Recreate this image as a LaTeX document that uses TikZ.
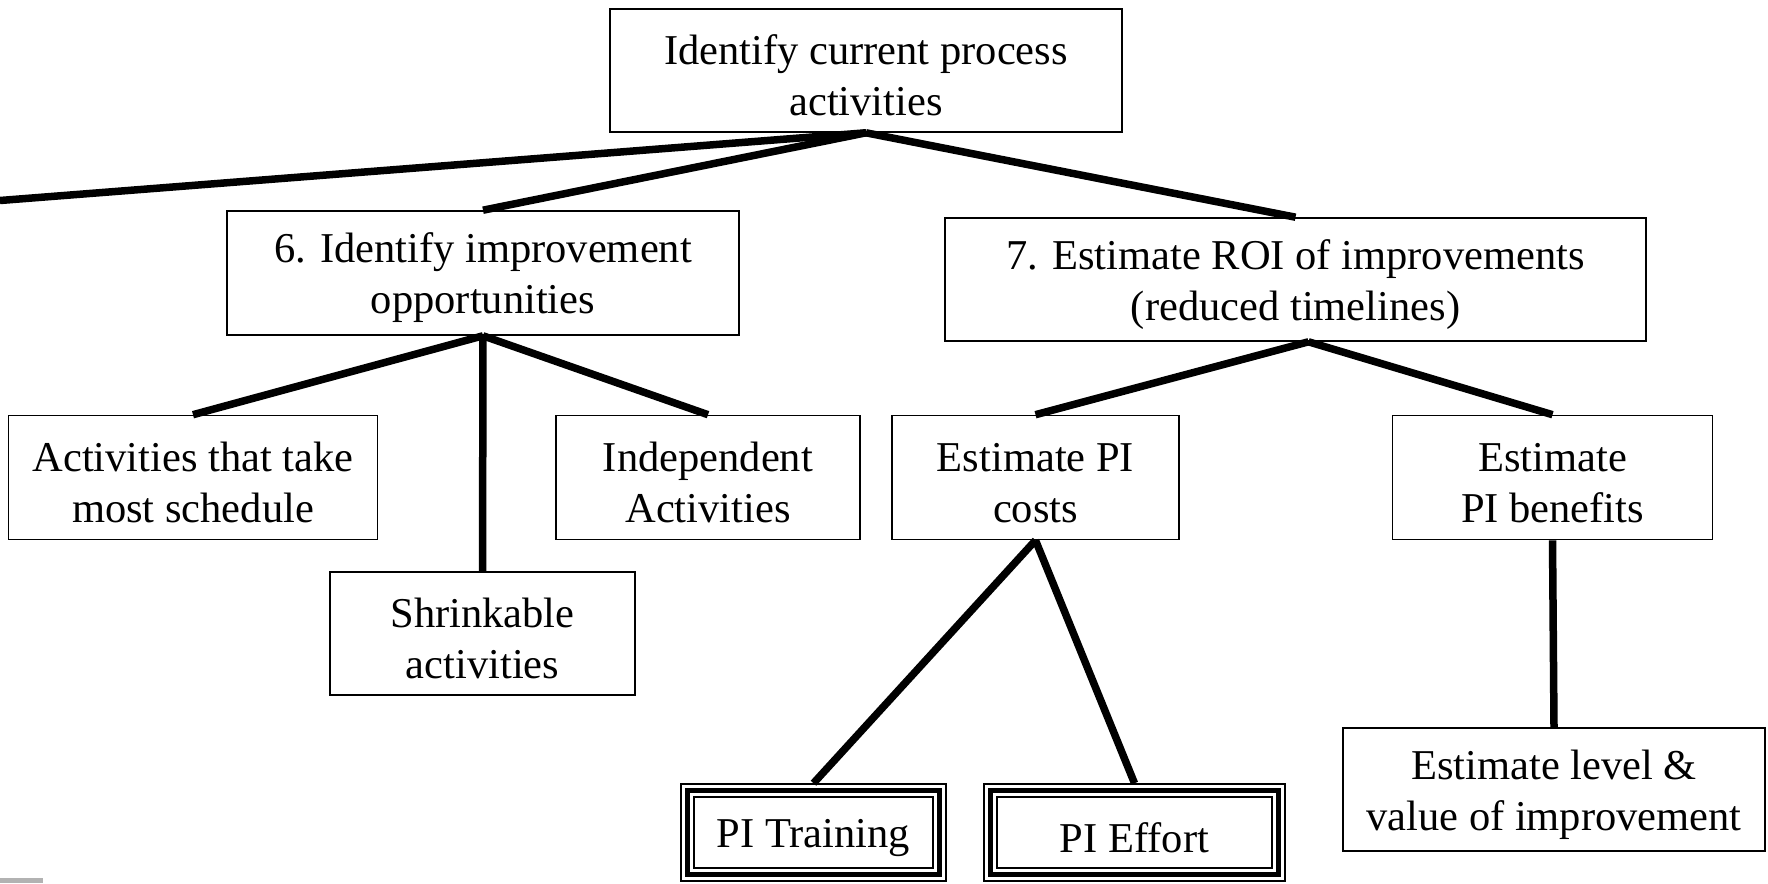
\documentclass[tikz,border=0pt]{standalone}
\usepackage{fontspec}
\setmainfont{Liberation Serif}
\newcommand\tallstrut{\rule{0pt}{40pt}}
\begin{document}
\begin{tikzpicture}[x=1pt,y=-1pt,
  box/.style={draw, line width=1.6pt, inner sep=0pt, align=center,
              font=\fontsize{42.5}{51}\selectfont},
  link/.style={line width=7.5pt},
]
\useasboundingbox (0,0) rectangle (1768,883);
\fill[white] (0,0) rectangle (1768,883);

% boxes
\node[box, minimum width=512pt, minimum height=123pt] (top) at (866,70.5)
  {\tallstrut Identify current process\\activities};
\node[box, minimum width=512pt, minimum height=124pt] (improve) at (483,273)
  {\tallstrut 6. Identify improvement\\opportunities};
\node[box, minimum width=701pt, minimum height=123pt] (roi) at (1295.5,279.5)
  {\tallstrut 7. Estimate ROI of improvements\\(reduced timelines)};
\node[box, minimum width=369pt, minimum height=124pt] (most) at (193,477.5)
  {\tallstrut Activities that take\\most schedule};
\node[box, minimum width=304pt, minimum height=124pt] (indep) at (708,477.5)
  {\tallstrut Independent\\Activities};
\node[box, minimum width=305pt, minimum height=123pt] (shrink) at (482.5,633.5)
  {\tallstrut Shrinkable\\activities};
\node[box, minimum width=287pt, minimum height=124pt] (costs) at (1035.5,477.5)
  {\tallstrut Estimate PI\\costs};
\node[box, minimum width=320pt, minimum height=124pt] (benefits) at (1552.5,477.5)
  {\tallstrut Estimate\\PI benefits};
\node[box, minimum width=422pt, minimum height=123pt] (level) at (1554,789.5)
  {\tallstrut Estimate level \&\\value of improvement};
\node[box, minimum width=265pt, minimum height=97pt] (train) at (813.5,832.5)
  {\tallstrut PI Training};
\node[box, minimum width=301pt, minimum height=97pt] (effort) at (1134.5,832.5)
  {\tallstrut PI Effort};

% inner frames of the framed boxes
\foreach \n in {train,effort}{
  \draw[line width=5.5pt] ([xshift=7.5pt,yshift=-7.5pt]\n.north west)
    rectangle ([xshift=-7.5pt,yshift=7.5pt]\n.south east);
  \draw[line width=1.6pt] ([xshift=14pt,yshift=-14pt]\n.north west)
    rectangle ([xshift=-14pt,yshift=14pt]\n.south east);
}

% connectors
\coordinate (offleft) at (0,200.5);
\coordinate (roifoot) at ([xshift=13pt]roi.south);
\draw[link] (top.south) -- (offleft);
\draw[link] (top.south) -- (improve.north);
\draw[link] (top.south) -- (roi.north);
\draw[link] (improve.south) -- (most.north);
\draw[link] (improve.south) -- (shrink.north);
\draw[link] (improve.south) -- (indep.north);
\draw[link] (roifoot) -- (costs.north);
\draw[link] (roifoot) -- (benefits.north);
\draw[link] (costs.south) -- (train.north);
\draw[link] (costs.south) -- (effort.north);
\draw[link] (benefits.south) -- (level.north);

% clipped icon fragment in the corner
\fill[gray!60] (0,878) rectangle (43,883);
\end{tikzpicture}
\end{document}
